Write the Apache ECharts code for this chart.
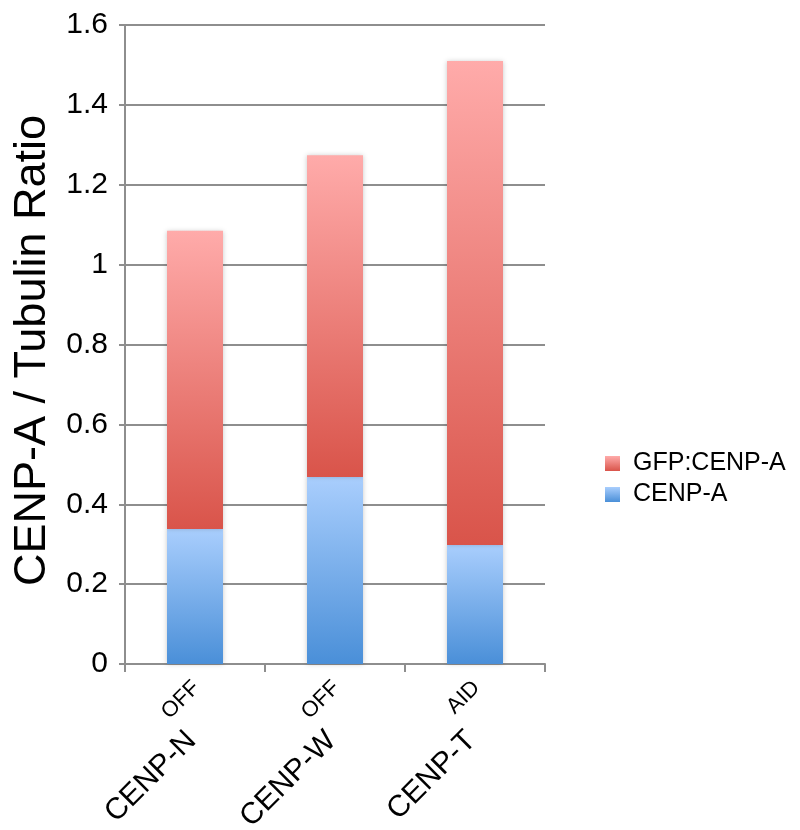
<!DOCTYPE html>
<html>
<head>
<meta charset="utf-8">
<script src="https://cdn.jsdelivr.net/npm/echarts@6/dist/echarts.min.js"></script>
<style>
  html, body { margin: 0; padding: 0; background: #fff; }
  #chart { width: 800px; height: 830px; }
</style>
</head>
<body>
<div id="chart"></div>
<script>
// Cell lines and their depletion tags
const categories = ['CENP-N', 'CENP-W', 'CENP-T'];
const tags = ['OFF', 'OFF', 'AID'];

// CENP-A / Tubulin ratios (stacked)
const cenpA = [0.338, 0.468, 0.298];
const gfpCenpA = [0.747, 0.806, 1.212];

const yTicks = { min: 0, max: 1.6, interval: 0.2 };

const FONT = '"Liberation Sans", Arial, Helvetica, sans-serif';

function vGrad(top, bottom) {
  return new echarts.graphic.LinearGradient(0, 0, 0, 1, [
    { offset: 0, color: top },
    { offset: 1, color: bottom }
  ]);
}

const redFill = vGrad('#ffabaa', '#d9544a');
const blueFill = vGrad('#a9cefd', '#4a8fd8');

const chart = echarts.init(document.getElementById('chart'), null, { renderer: 'canvas' });

chart.setOption({
  animation: false,
  backgroundColor: '#ffffff',
  textStyle: { fontFamily: FONT },
  grid: { left: 125, right: 255, top: 25, bottom: 166, containLabel: false, outerBoundsMode: 'none' },
  legend: {
    orient: 'vertical',
    left: 600,
    top: 446,
    itemWidth: 15,
    itemHeight: 15,
    itemGap: 6,
    icon: 'rect',
    data: ['GFP:CENP-A', 'CENP-A'],
    textStyle: { fontSize: 25, color: '#000', fontFamily: FONT, padding: [0, 0, 0, 8] }
  },
  xAxis: {
    type: 'category',
    data: categories,
    boundaryGap: true,
    axisLine: { lineStyle: { color: '#8e8e8e', width: 2 } },
    axisTick: { show: true, length: 8, alignWithLabel: false, lineStyle: { color: '#8e8e8e', width: 2 } },
    axisLabel: {
      rotate: 45,
      margin: 19,
      interval: 0,
      color: '#000',
      padding: [40, 0, 0, 0],
      formatter: function (value, idx) {
        // tag sits raised after the cell-line name
        return '{sup|' + tags[idx] + '}\n{main|' + value + '}';
      },
      rich: {
        main: { fontSize: 30, fontFamily: FONT, color: '#000', lineHeight: 36, padding: [0, 40, 0, 0] },
        sup: { fontSize: 22, fontFamily: FONT, color: '#000', lineHeight: 30 }
      }
    }
  },
  yAxis: {
    type: 'value',
    min: yTicks.min,
    max: yTicks.max,
    interval: yTicks.interval,
    name: 'CENP-A / Tubulin Ratio',
    nameLocation: 'middle',
    nameGap: 62,
    nameTextStyle: { fontSize: 45, color: '#000', fontFamily: FONT, padding: [0, 12, 0, 0] },
    axisLine: { show: true, lineStyle: { color: '#8e8e8e', width: 2 } },
    axisTick: { show: true, length: 6, lineStyle: { color: '#8e8e8e', width: 2 } },
    splitLine: { show: true, lineStyle: { color: '#8e8e8e', width: 2 } },
    axisLabel: { fontSize: 30, color: '#000', margin: 17, fontFamily: FONT }
  },
  series: [
    {
      name: 'CENP-A',
      type: 'bar',
      stack: 'total',
      barWidth: '40%',
      data: cenpA,
      itemStyle: { color: blueFill, shadowBlur: 5, shadowColor: 'rgba(0,0,0,0.22)' }
    },
    {
      name: 'GFP:CENP-A',
      type: 'bar',
      stack: 'total',
      barWidth: '40%',
      data: gfpCenpA,
      itemStyle: { color: redFill, shadowBlur: 5, shadowColor: 'rgba(0,0,0,0.22)' }
    }
  ]
});
</script>
</body>
</html>
